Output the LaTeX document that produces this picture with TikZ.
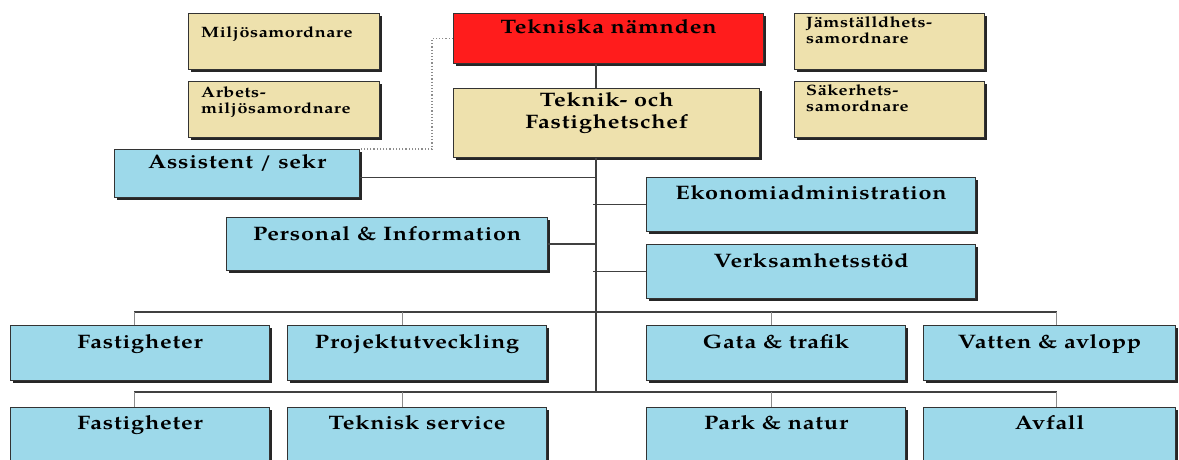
\documentclass[tikz,border=0pt]{standalone}
\usepackage{fontspec}
\setmainfont[FakeStretch=1.2, LetterSpace=4]{TeX Gyre Pagella}
\usetikzlibrary{shadows}

\definecolor{boxblue}{RGB}{157,217,234}
\definecolor{boxtan}{RGB}{238,225,173}
\definecolor{boxred}{RGB}{255,28,28}

\tikzset{
  unitbox/.style={draw=black!80, line width=1.2pt, anchor=north west, inner sep=0pt,
    drop shadow={shadow xshift=2.5pt, shadow yshift=-2.5pt, opacity=1, fill=black!85}},
  bluebox/.style={unitbox, fill=boxblue},
  tanbox/.style={unitbox, fill=boxtan},
  redbox/.style={unitbox, fill=boxred},
  head/.style={font=\bfseries\fontsize{19.5}{22}\selectfont, align=center, inner sep=0pt, anchor=north},
  note/.style={font=\bfseries\fontsize{15}{16}\selectfont, align=left, inner sep=0pt, anchor=north west},
  link/.style={draw=black!75, line width=1.3pt},
  droplink/.style={draw=black!45, line width=1.2pt},
  dotlink/.style={draw=black!45, line width=1.2pt, dotted}
}

\begin{document}
\begin{tikzpicture}[x=1pt, y=-1pt]
  \useasboundingbox (0,0) rectangle (1179,459);
  \clip (0,0) rectangle (1179,459);

  % top level
  \node[redbox, minimum width=310, minimum height=50,
    label={[head, yshift=-6]north:Tekniska nämnden}] (tek) at (453,13) {};
  \node[tanbox, minimum width=306, minimum height=69,
    label={[head, yshift=-4]north:Teknik- och\\Fastighetschef}] (chef) at (453,88) {};

  % staff functions
  \node[tanbox, minimum width=191, minimum height=56,
    label={[note, xshift=13, yshift=-13]north west:Miljösamordnare}] (miljo) at (188,13) {};
  \node[tanbox, minimum width=191, minimum height=56,
    label={[note, xshift=13, yshift=-5]north west:Arbets-\\miljösamordnare}] (arbmiljo) at (188,81) {};
  \node[tanbox, minimum width=190, minimum height=56,
    label={[note, xshift=12, yshift=-3]north west:Jämställdhets-\\samordnare}] (jamst) at (794,13) {};
  \node[tanbox, minimum width=190, minimum height=56,
    label={[note, xshift=12, yshift=-3]north west:Säkerhets-\\samordnare}] (saker) at (794,81) {};

  % support units
  \node[bluebox, minimum width=245, minimum height=48,
    label={[head, yshift=-5]north:Assistent / sekr}] (assist) at (114,149) {};
  \node[bluebox, minimum width=329, minimum height=54,
    label={[head, yshift=-8]north:Ekonomiadministration}] (eko) at (646,177) {};
  \node[bluebox, minimum width=321, minimum height=53,
    label={[head, yshift=-9]north:Personal \& Information}] (pers) at (226,217) {};
  \node[bluebox, minimum width=329, minimum height=54,
    label={[head, yshift=-9]north:Verksamhetsstöd}] (verk) at (646,244) {};

  % first row of units
  \node[bluebox, minimum width=259, minimum height=55,
    label={[head, yshift=-9]north:Fastigheter}] (fast) at (10,325) {};
  \node[bluebox, minimum width=259, minimum height=55,
    label={[head, yshift=-9]north:Projektutveckling}] (proj) at (287,325) {};
  \node[bluebox, minimum width=259, minimum height=55,
    label={[head, yshift=-9]north:Gata \& trafik}] (gata) at (646,325) {};
  \node[bluebox, minimum width=252, minimum height=55,
    label={[head, yshift=-9]north:Vatten \& avlopp}] (vatten) at (923,325) {};

  % second row of units
  \node[bluebox, minimum width=259, minimum height=55,
    label={[head, yshift=-8]north:Fastigheter}] (fast2) at (10,407) {};
  \node[bluebox, minimum width=259, minimum height=55,
    label={[head, yshift=-8]north:Teknisk service}] (tekserv) at (287,407) {};
  \node[bluebox, minimum width=259, minimum height=55,
    label={[head, yshift=-8]north:Park \& natur}] (park) at (646,407) {};
  \node[bluebox, minimum width=252, minimum height=55,
    label={[head, yshift=-8]north:Avfall}] (avfall) at (923,407) {};

  \coordinate (trunk) at (596,0);
  \coordinate (bus1) at (0,312);
  \coordinate (bus2) at (0,392);

  % main line
  \draw[link] (tek.south -| trunk) -- (chef.north -| trunk);
  \draw[link] (chef.south -| trunk) -- (bus2 -| trunk);
  \draw[dotlink] (tek.west) -- ++(-21,0) |- (assist.north east);

  % side branches
  \draw[link] ([yshift=-4]assist.east) -- ([yshift=-4]assist.east -| trunk);
  \draw[link] (pers.east) -- (pers.east -| trunk);
  \draw[link] (eko.west) -- ([xshift=-3]eko.west -| trunk);
  \draw[link] (verk.west) -- ([xshift=-3]verk.west -| trunk);

  % bus lines
  \draw[link] ([xshift=-6]fast.north |- bus1) -- ([xshift=7]vatten.north |- bus1);
  \draw[link] ([xshift=-6]fast2.north |- bus2) -- ([xshift=7]avfall.north |- bus2);
  \foreach \n/\dx in {fast/-6, proj/-15, gata/-5, vatten/7}
    \draw[droplink] ([xshift=\dx]\n.north) -- ([xshift=\dx]\n.north |- bus1);
  \foreach \n/\dx in {fast2/-6, tekserv/-15, park/-5, avfall/7}
    \draw[droplink] ([xshift=\dx]\n.north) -- ([xshift=\dx]\n.north |- bus2);

\end{tikzpicture}
\end{document}
